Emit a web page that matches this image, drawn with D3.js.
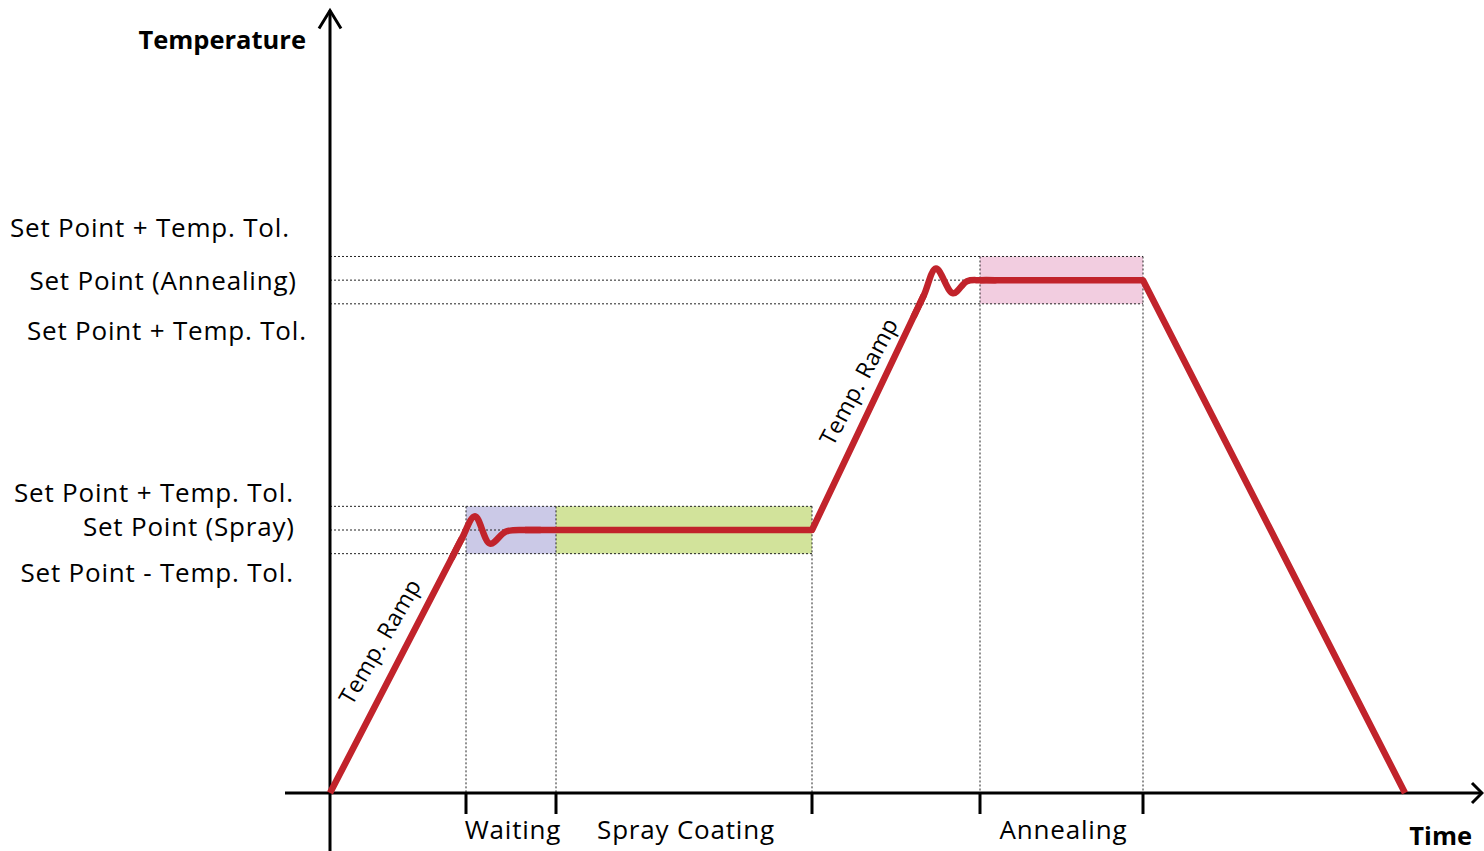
<!DOCTYPE html>
<html>
<head>
<meta charset="utf-8">
<script src="https://cdn.jsdelivr.net/npm/d3@7"></script>
<style>
  html, body { margin: 0; padding: 0; background: #fff; }
  svg { display: block; }
  text { font-family: "Open Sans", Lato, sans-serif; fill: #000; }
</style>
</head>
<body>
<svg id="chart" width="1484" height="851"></svg>
<script>
// ---------------- data ----------------
const phaseNames = ["Waiting", "Spray Coating", "Annealing"];
const phaseStart = [13.6, 22.6, 65.0];
const phaseEnd   = [22.6, 48.2, 81.3];
const phaseBandSetPoint = [100, 100, 195];
const tickTimes = [13.6, 22.6, 48.2, 65.0, 81.3];

const setPoints = [100, 195];          // spray, annealing
const setPointEnd = [48.2, 81.3];      // where the guide lines stop
const tempTol = 9;

const levelLabels = [
  "Set Point + Temp. Tol.", "Set Point (Annealing)", "Set Point + Temp. Tol.",
  "Set Point + Temp. Tol.", "Set Point (Spray)", "Set Point - Temp. Tol."
];
const levelValues = [204, 195, 186, 109, 100, 91];

// straight parts of the temperature profile (null = gap filled by the smooth wiggles)
const profileTime = [0, 13.2, null, 19.5, 48.2, 59.4, null, 65.0, 81.3, 107.5];
const profileTemp = [0, 96.9, null, 100, 100, 189.4, null, 195, 195, 0];

// overshoot wiggles when reaching set points
const wiggle1Time = [12.2, 13.2, 14.5, 16.0, 17.6, 19.5, 21.0];
const wiggle1Temp = [89.5, 96.9, 105.2, 94.8, 99.4, 100, 100];
const wiggle2Time = [58.4, 59.4, 60.6, 62.3, 63.7, 65.0, 66.5];
const wiggle2Temp = [181.4, 189.4, 199.4, 190.0, 194.6, 195, 195];

const rampLabels = ["Temp. Ramp", "Temp. Ramp"];

// ---------------- layout ----------------
const svg = d3.select("#chart");
const x = d3.scaleLinear().domain([0, 115.4]).range([330, 1484]);
const y = d3.scaleLinear().domain([0, 300]).range([793, 4]);

const colors = { band: ["#cbc9e7", "#d2e39b", "#f2cde0"], red: "#c1232b" };

// bands
svg.append("g").selectAll("rect").data(phaseNames).join("rect")
  .attr("x", (d, i) => x(phaseStart[i]))
  .attr("width", (d, i) => x(phaseEnd[i]) - x(phaseStart[i]))
  .attr("y", (d, i) => y(phaseBandSetPoint[i] + tempTol))
  .attr("height", (d, i) => y(phaseBandSetPoint[i] - tempTol) - y(phaseBandSetPoint[i] + tempTol))
  .attr("fill", (d, i) => colors.band[i]);

// dotted guide lines
const guides = svg.append("g").attr("stroke", "#222").attr("stroke-width", 1).attr("stroke-dasharray", "2,2").attr("fill", "none");
setPoints.forEach((sp, i) => {
  [sp + tempTol, sp, sp - tempTol].forEach(v => {
    guides.append("line").attr("x1", x(0)).attr("x2", x(setPointEnd[i])).attr("y1", y(v)).attr("y2", y(v));
  });
});
tickTimes.forEach(t => {
  const sp = t >= 65 ? setPoints[1] : setPoints[0];
  guides.append("line").attr("x1", x(t)).attr("x2", x(t)).attr("y1", y(sp + tempTol)).attr("y2", y(0));
});

// axes
const axes = svg.append("g").attr("stroke", "#000").attr("stroke-width", 3).attr("fill", "none");
axes.append("line").attr("x1", x(0)).attr("x2", x(0)).attr("y1", 851).attr("y2", y(297.5));
axes.append("line").attr("x1", x(-4.5)).attr("x2", x(115.2)).attr("y1", y(0)).attr("y2", y(0));
axes.append("path").attr("d", `M${x(0) - 11},${y(297.5) + 18} L${x(0)},${y(297.5)} L${x(0) + 11},${y(297.5) + 18}`);
axes.append("path").attr("d", `M${x(115.2) - 10},${y(0) - 10} L${x(115.2)},${y(0)} L${x(115.2) - 10},${y(0) + 10}`);
axes.selectAll("line.tick").data(tickTimes).join("line").attr("class", "tick")
  .attr("x1", d => x(d)).attr("x2", d => x(d)).attr("y1", y(0)).attr("y2", y(0) + 21);

// temperature profile
const lineGen = d3.line()
  .defined((d, i) => d[0] !== null)
  .x(d => x(d[0])).y(d => y(d[1]));
const profile = profileTime.map((t, i) => [t, profileTemp[i]]);
svg.append("path").datum(profile).attr("d", lineGen)
  .attr("fill", "none").attr("stroke", colors.red).attr("stroke-width", 6.5).attr("stroke-linejoin", "round");
const smooth = d3.line().curve(d3.curveCatmullRom.alpha(0.5)).x(d => x(d[0])).y(d => y(d[1]));
[[wiggle1Time, wiggle1Temp], [wiggle2Time, wiggle2Temp]].forEach(([ts, vs]) => {
  svg.append("path").datum(ts.map((t, i) => [t, vs[i]])).attr("d", smooth)
    .attr("fill", "none").attr("stroke", colors.red).attr("stroke-width", 6.5)
    .attr("stroke-linejoin", "round").attr("stroke-linecap", "round");
});

// level labels
const labelRight = [289, 296, 306, 293, 294, 293];
const labelOffset = [-19.5, 10, 36, -4.3, 5.5, 28.3];
svg.append("g").selectAll("text").data(levelLabels).join("text")
  .attr("x", (d, i) => labelRight[i] + 0.8)
  .attr("y", (d, i) => y(levelValues[i]) + labelOffset[i])
  .attr("text-anchor", "end").attr("font-size", 26).attr("letter-spacing", 0.8).text(d => d);

// phase labels
svg.append("g").selectAll("text").data(phaseNames).join("text")
  .attr("x", (d, i) => (x(phaseStart[i]) + x(phaseEnd[i])) / 2 + 2)
  .attr("y", y(0) + 46)
  .attr("text-anchor", "middle").attr("font-size", 26).attr("letter-spacing", 0.8).text(d => d);

// axis titles
svg.append("text").attr("x", 306).attr("y", 49).attr("text-anchor", "end")
  .attr("font-size", 25.5).attr("font-weight", "bold").text("Temperature");
svg.append("text").attr("x", 1472).attr("y", 845).attr("text-anchor", "end")
  .attr("font-size", 25.5).attr("font-weight", "bold").text("Time");

// ramp labels
const rampPos = [[5.7, 56, -60], [53.6, 155, -62]];
svg.append("g").selectAll("text").data(rampLabels).join("text")
  .attr("transform", (d, i) => `translate(${x(rampPos[i][0])},${y(rampPos[i][1])}) rotate(${rampPos[i][2]})`)
  .attr("text-anchor", "middle").attr("font-size", 23).attr("letter-spacing", 0.5).text(d => d);
</script>
</body>
</html>
